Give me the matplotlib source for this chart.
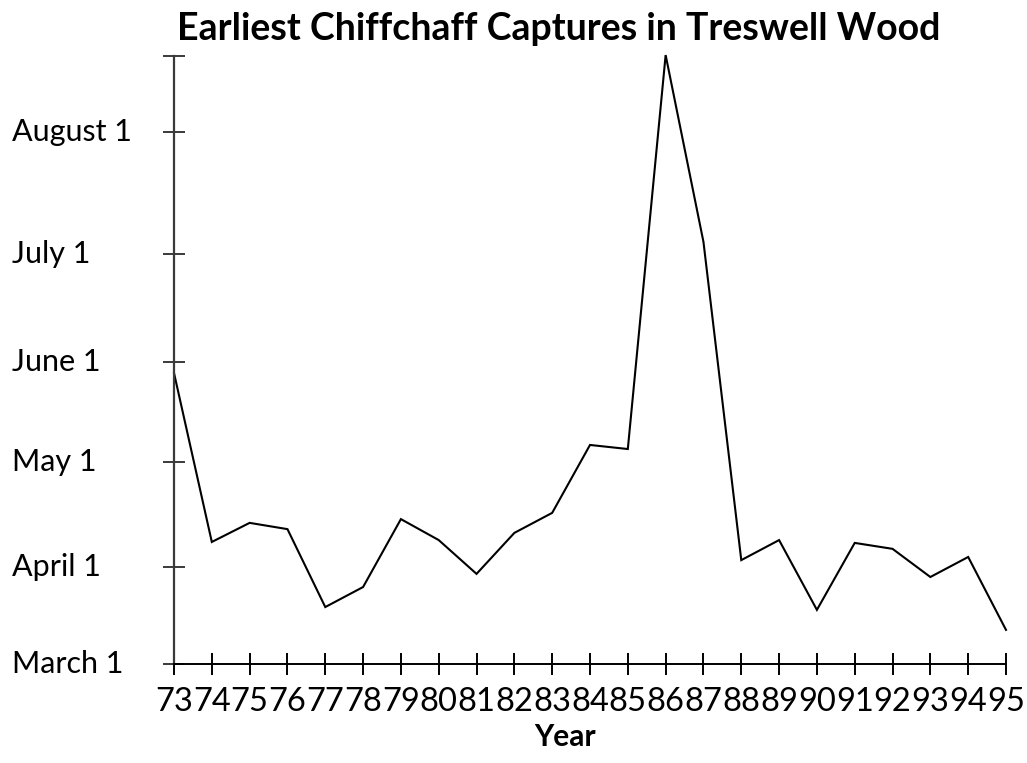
import matplotlib
matplotlib.use("Agg")
import matplotlib.pyplot as plt
import matplotlib.transforms as mtransforms

years = ["73", "74", "75", "76", "77", "78", "79", "80", "81", "82", "83", "84",
         "85", "86", "87", "88", "89", "90", "91", "92", "93", "94", "95"]
# earliest capture, in day-units above March 1
capture = [93.0, 39.0, 45.1, 43.1, 18.2, 24.6, 46.3, 39.6, 28.8, 41.9, 48.3, 70.0,
           68.7, 194.6, 134.9, 33.2, 39.6, 17.3, 38.7, 36.8, 27.8, 34.2, 10.9]
ytick_vals = [0, 31, 64.6, 96.5, 131.0, 170.0, 194.3]
ytick_labels = ["March 1", "April 1", "May 1", "June 1", "July 1", "August 1", ""]

plt.rcParams['font.family'] = ['Lato', 'DejaVu Sans']

W, H = 1027, 763
fig = plt.figure(figsize=(W / 100, H / 100), dpi=100)
left, right, top, bottom = 174, 1006, 56, 664
ax = fig.add_axes([left / W, (H - bottom) / H, (right - left) / W, (bottom - top) / H])

x = list(range(len(years)))
ax.plot(x, capture, color='black', lw=1.5, clip_on=False, solid_joinstyle='miter')

ax.set_xlim(0, len(years) - 1)
ax.set_ylim(0, ytick_vals[-1])

for s in ['top', 'right']:
    ax.spines[s].set_visible(False)
ax.spines['left'].set_color('#3a3a3a')
ax.spines['left'].set_linewidth(1.6)
ax.spines['bottom'].set_color('black')
ax.spines['bottom'].set_linewidth(1.4)

ax.set_xticks(x)
ax.set_xticklabels(years, fontsize=23.5)
ax.tick_params(axis='x', direction='inout', length=16.5, width=1.4, color='black', pad=8)
ax.set_yticks(ytick_vals)
ax.set_yticklabels([])
ax.tick_params(axis='y', direction='inout', length=16.5, width=1.4, color='#3a3a3a')

trans = mtransforms.blended_transform_factory(fig.transFigure, ax.transData)
for v, lab in zip(ytick_vals, ytick_labels):
    if lab:
        ax.text(12 / W, v, lab, transform=trans, ha='left', va='center', fontsize=22)

fig.text(559 / W, 1 - 29 / H, "Earliest Chiffchaff Captures in Treswell Wood",
         ha='center', va='center', fontsize=27, fontweight='bold')
fig.text(565 / W, 1 - 737 / H, "Year", ha='center', va='center', fontsize=21.5, fontweight='bold')

fig.savefig("out.png", dpi=100)
